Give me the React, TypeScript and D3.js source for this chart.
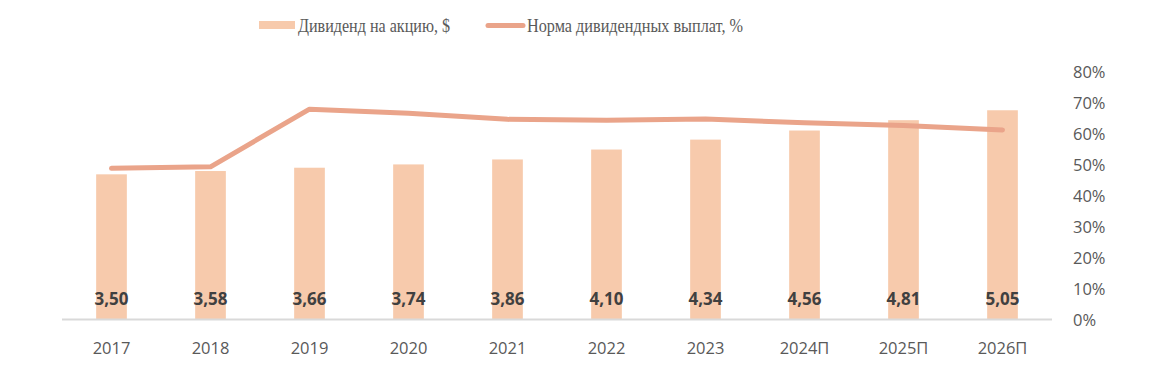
import React from "react";
import * as d3 from "d3";

const categories = ["2017", "2018", "2019", "2020", "2021", "2022", "2023", "2024П", "2025П", "2026П"];
const dividends = [3.5, 3.58, 3.66, 3.74, 3.86, 4.1, 4.34, 4.56, 4.81, 5.05];
const payoutRatio = [48.6, 49.1, 67.7, 66.4, 64.4, 64.1, 64.5, 63.3, 62.4, 61.0];
const pctTicks = [0, 10, 20, 30, 40, 50, 60, 70, 80];
const legendBar = "Дивиденд на акцию, $";
const legendLine = "Норма дивидендных выплат, %";

const BAR = "#F7CAAC";
const LINE = "#EAA48A";

export default function App() {
  const W = 1174, H = 373;
  const x0 = 62, x1 = 1052, yTop = 71, yBot = 319;
  const x = d3.scaleBand<string>().domain(categories).range([x0, x1]).paddingInner(0.69).paddingOuter(0.345);
  const yL = d3.scaleLinear().domain([0, 6]).range([yBot, yTop]);
  const yR = d3.scaleLinear().domain([0, 80]).range([yBot, yTop]);
  const cx = (c: string) => (x(c) as number) + x.bandwidth() / 2;
  const line = d3.line<number>().x((_, i) => cx(categories[i])).y((d) => yR(d));
  const fmt = (v: number) => v.toFixed(2).replace(".", ",");
  const font = "'Open Sans', sans-serif";
  const serif = "'Liberation Serif', serif";
  return (
    <svg width={W} height={H} style={{ position: "absolute", left: 0, top: 0, background: "#fff" }}>
      <rect width={W} height={H} fill="#fff" />
      {categories.map((c, i) => (
        <rect key={c} x={x(c)} y={yL(dividends[i])} width={x.bandwidth()} height={yBot - yL(dividends[i])} fill={BAR} />
      ))}
      <line x1={x0} x2={x1} y1={yBot + 0.5} y2={yBot + 0.5} stroke="#D9D9D9" strokeWidth={2} />
      <path d={line(payoutRatio) || ""} fill="none" stroke={LINE} strokeWidth={5} strokeLinecap="round" strokeLinejoin="round" />
      {categories.map((c, i) => (
        <text key={"v" + c} x={cx(c)} y={298} textAnchor="middle" dominantBaseline="central" fontFamily={font} fontWeight={700} fontSize={17} fill="#404040">
          {fmt(dividends[i])}
        </text>
      ))}
      {categories.map((c) => (
        <text key={"x" + c} x={cx(c)} y={347} textAnchor="middle" dominantBaseline="central" fontFamily={font} fontSize={16.5} fill="#595959">
          {c}
        </text>
      ))}
      {pctTicks.map((t) => (
        <text key={"p" + t} x={1073} y={yR(t)} dominantBaseline="central" fontFamily={font} fontSize={16.5} fill="#595959">
          {t + "%"}
        </text>
      ))}
      <rect x={259} y={21} width={36} height={8} fill={BAR} />
      <text x={298} y={26} dominantBaseline="central" fontFamily={serif} fontSize={18} fill="#595959" textLength={152} lengthAdjust="spacingAndGlyphs">{legendBar}</text>
      <line x1={488} x2={523} y1={25.5} y2={25.5} stroke={LINE} strokeWidth={5} strokeLinecap="round" />
      <text x={527} y={26} dominantBaseline="central" fontFamily={serif} fontSize={18} fill="#595959" textLength={216} lengthAdjust="spacingAndGlyphs">{legendLine}</text>
    </svg>
  );
}
